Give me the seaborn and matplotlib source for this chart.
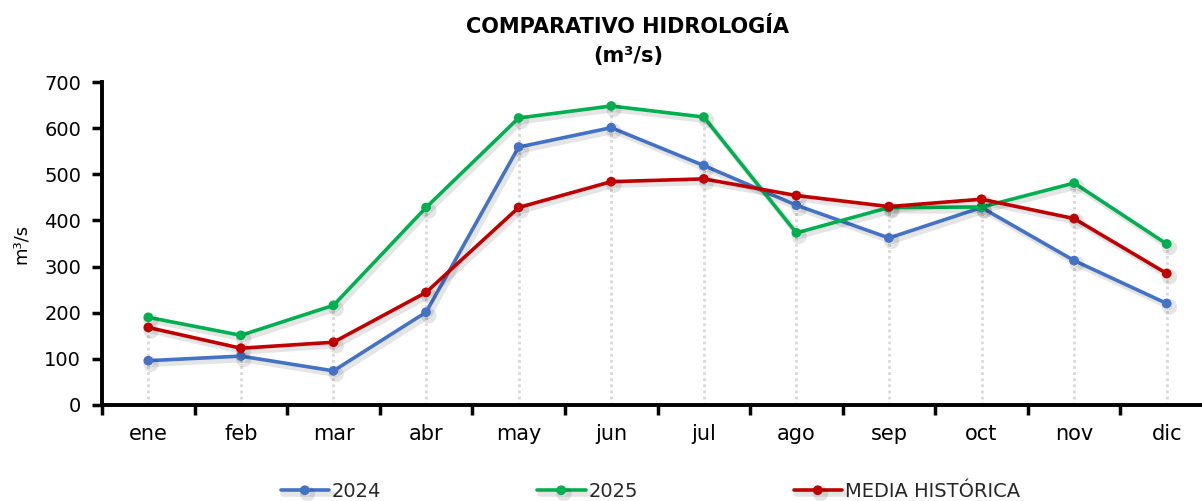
import numpy as np
import pandas as pd
import seaborn as sns
import matplotlib.pyplot as plt
import matplotlib.patheffects as pe

# data
meses = ["ene", "feb", "mar", "abr", "may", "jun", "jul", "ago", "sep", "oct", "nov", "dic"]
caudal_2024 = [96, 106, 74, 201, 559, 601, 519, 433, 362, 428, 313, 220]
caudal_2025 = [190, 151, 216, 428, 622, 648, 624, 373, 428, 429, 481, 349]
media_historica = [168, 123, 136, 244, 428, 484, 490, 454, 430, 446, 404, 285]
series = ["2024", "2025", "MEDIA HISTÓRICA"]
colores = ["#4472C4", "#00B050", "#C00000"]

df = pd.DataFrame({
    "mes": meses * 3,
    "valor": caudal_2024 + caudal_2025 + media_historica,
    "serie": [s for s in series for _ in meses],
})

sns.set_style("white")
plt.rcParams["font.family"] = ["DejaVu Sans"]

fig = plt.figure(figsize=(12.02, 5.01), dpi=100)
ax = fig.add_axes([102 / 1202, 1 - 405 / 501, 1111 / 1202, 323 / 501])

# drop lines from the highest point of each month
tope = np.max([caudal_2024, caudal_2025, media_historica], axis=0)
ax.vlines(np.arange(len(meses)), 0, tope, colors="#D9D9D9", linestyles=(0, (1, 1.2)),
          linewidth=2, zorder=1)

sns.lineplot(data=df, x="mes", y="valor", hue="serie", palette=colores, marker="o",
             sort=False, linewidth=2.6, markersize=7, markeredgewidth=0, ax=ax, zorder=3)

for ln in ax.lines:
    ln.set_path_effects([pe.SimpleLineShadow(offset=(2, -2.5), alpha=0.1, shadow_color="black",
                                             linewidth=4),
                         pe.Normal()])

ax.set_xlim(-0.5, 11.5)
ax.set_ylim(0, 700)
ax.set_yticks(range(0, 701, 100))
ax.set_xticks(range(len(meses)))
ax.set_xticklabels(meses)
ax.set_xticks(np.arange(-0.5, 12, 1), minor=True)
ax.tick_params(axis="x", which="major", length=0, pad=14, labelsize=15, colors="black")
ax.tick_params(axis="x", which="minor", length=7, width=2.5, direction="out", color="black", bottom=True)
ax.tick_params(axis="y", length=7, width=2.5, direction="out", left=True, labelsize=14,
               colors="black", labelcolor="black", pad=8)

for s in ["top", "right"]:
    ax.spines[s].set_visible(False)
for s in ["left", "bottom"]:
    ax.spines[s].set_color("black")
    ax.spines[s].set_linewidth(2.8)

ax.set_xlabel("")
ax.set_ylabel("m³/s", fontsize=13, labelpad=10, color="black")

handles, labels = ax.get_legend_handles_labels()
ax.get_legend().remove()
fig.legend(handles, labels, loc="lower left", bbox_to_anchor=(263 / 1202, -0.035), ncol=3,
           frameon=False, fontsize=14, handlelength=2.5, handletextpad=0.15,
           columnspacing=8.0)

fig.text(628 / 1202, 1 - 27 / 501, "COMPARATIVO HIDROLOGÍA", ha="center", va="center",
         fontsize=15, fontweight="bold", color="black")
fig.text(628 / 1202, 1 - 56 / 501, "(m³/s)", ha="center", va="center",
         fontsize=15, fontweight="bold", color="black")

fig.savefig("out.png", dpi=100)
